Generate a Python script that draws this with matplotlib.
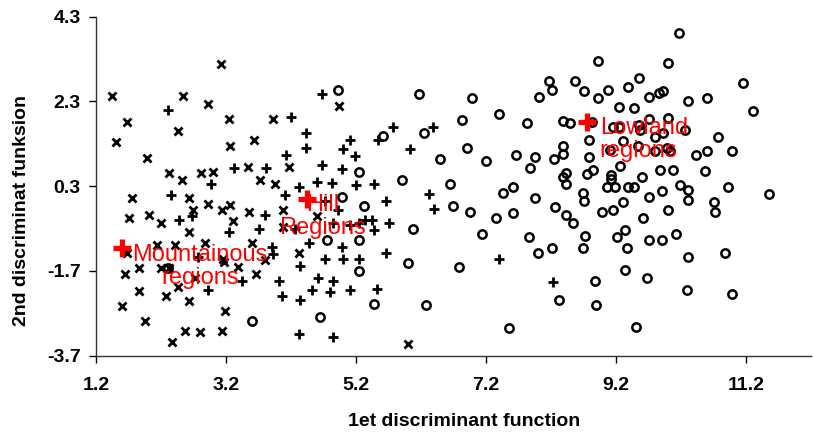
import matplotlib
matplotlib.use("Agg")
import matplotlib.pyplot as plt

# group scores (1st function, 2nd function)
mount_x = [3.13, 1.45, 2.54, 2.92, 1.68, 3.24, 3.92, 2.46, 1.50, 3.63, 3.26, 1.98, 2.33, 2.52, 2.81,
           3.00, 3.54, 3.73, 3.95, 1.75, 2.63, 2.92, 3.26, 3.14, 3.55, 2.69, 1.70, 2.02, 2.20, 3.31,
           2.63, 2.14, 2.42, 2.88, 3.60, 3.15, 3.17, 1.67, 1.86, 1.65, 2.20, 2.33, 3.38, 3.66, 3.80,
           2.73, 2.46, 1.86, 2.28, 2.63, 1.60, 3.18, 1.96, 2.57, 2.80, 3.14, 2.37, 4.94, 4.17, 4.07,
           4.60, 4.08, 4.33, 6.00]
mount_y = [3.18, 2.43, 2.43, 2.23, 1.81, 1.88, 1.88, 1.61, 1.35, 1.39, 1.25, 0.97, 0.61, 0.44, 0.61,
           0.64, 0.76, 0.44, 0.36, 0.01, 0.01, -0.13, -0.15, -0.27, -0.31, -0.27, -0.46, -0.37, -0.57, -0.52,
           -0.78, -1.09, -1.09, -1.05, -1.03, -1.41, -1.49, -1.28, -1.63, -1.78, -1.64, -1.64, -1.61, -1.78, -1.45,
           -1.87, -2.09, -2.17, -2.30, -2.41, -2.53, -2.65, -2.87, -3.12, -3.14, -3.12, -3.38, 2.19, 0.76, -0.27,
           -0.41, -0.66, -1.28, -3.42]

hill_x = [2.30, 2.97, 3.33, 3.82, 2.36, 3.80, 2.68, 2.48, 3.25, 3.71, 2.77, 3.90, 3.92, 2.92, 3.45,
          4.67, 4.20, 4.43, 4.43, 4.13, 5.11, 5.00, 5.18, 4.68, 4.98, 5.54, 5.77, 6.38, 6.03, 4.33,
          4.60, 4.83, 5.20, 5.47, 4.11, 4.72, 4.93, 5.66, 6.33, 6.40, 4.26, 4.85, 5.11, 5.24, 5.34,
          5.44, 5.47, 5.70, 4.48, 4.98, 4.34, 4.72, 5.00, 5.24, 5.66, 4.02, 4.62, 4.85, 4.06, 4.34,
          4.53, 4.80, 5.11, 5.52, 4.33, 4.85, 7.40, 8.23]
hill_y = [2.11, 0.35, 0.72, 0.72, 0.09, -0.38, -0.41, -0.49, -0.78, -0.70, -1.37, -1.13, -1.31, -2.16, -1.94,
          2.47, 1.94, 1.56, 1.21, 1.03, 1.40, 1.17, 1.01, 0.81, 0.70, 1.39, 1.70, 1.70, 1.17, 0.28,
          0.40, 0.38, 0.32, 0.36, 0.09, -0.05, -0.25, -0.05, 0.11, -0.23, -0.72, -0.58, -0.62, -0.57, -0.50,
          -0.50, -0.74, -0.57, -1.05, -1.13, -1.59, -1.41, -1.41, -1.41, -1.28, -1.94, -1.87, -1.94, -2.30, -2.38,
          -2.14, -2.20, -2.14, -2.12, -3.18, -3.27, -1.42, -1.96]

low_x = [2.31, 3.60, 4.93, 6.17, 5.24, 5.62, 6.24, 6.49, 5.90, 6.65, 4.98, 5.32, 6.07, 4.75, 5.25,
         5.24, 6.00, 5.47, 6.28, 4.65, 8.93, 8.17, 8.21, 8.57, 8.70, 8.02, 8.93, 9.08, 9.39, 9.25,
         6.99, 7.40, 6.83, 7.83, 8.38, 8.49, 8.83, 9.16, 9.24, 8.79, 9.30, 6.90, 7.20, 7.66, 7.95,
         8.24, 8.38, 8.38, 8.79, 9.10, 9.26, 7.87, 8.43, 8.38, 8.43, 8.75, 8.85, 9.13, 9.13, 7.62,
         9.06, 9.18, 7.46, 7.95, 8.69, 8.70, 9.39, 6.69, 6.95, 7.35, 7.61, 8.26, 8.43, 8.54, 8.99,
         9.15, 9.31, 7.14, 7.86, 8.73, 8.69, 9.21, 9.34, 9.37, 8.00, 8.21, 6.79, 9.34, 8.88, 8.32,
         8.89, 7.56, 10.17, 10.00, 9.56, 9.71, 9.86, 9.93, 10.31, 10.60, 11.15, 11.30, 9.47, 10.00, 9.71,
         9.56, 9.57, 9.80, 9.93, 10.26, 10.77, 9.54, 9.80, 9.98, 10.03, 10.43, 10.60, 10.98, 9.87, 10.08,
         10.57, 9.60, 9.47, 10.18, 10.31, 9.90, 10.93, 11.56, 10.31, 9.71, 10.00, 10.71, 10.72, 9.61, 9.70,
         9.91, 10.12, 10.31, 10.88, 9.67, 10.29, 10.98, 9.51]
low_y = [-1.62, -2.88, 2.58, 2.47, 0.64, 1.48, 1.55, 0.95, 0.44, 0.36, 0.05, -0.17, -0.70, -0.98, -0.98,
         -1.70, -1.51, -2.49, -2.51, -2.79, 3.26, 2.78, 2.57, 2.78, 2.55, 2.40, 2.37, 2.57, 2.63, 2.17,
         2.37, 2.00, 1.86, 1.78, 1.84, 1.78, 1.82, 1.70, 1.70, 1.39, 1.37, 1.21, 0.90, 1.03, 0.99,
         0.95, 1.25, 1.06, 0.99, 1.15, 0.77, 0.74, 0.60, 0.51, 0.36, 0.58, 0.68, 0.56, 0.48, 0.28,
         0.28, 0.28, 0.13, 0.01, 0.14, -0.05, 0.28, -0.17, -0.31, -0.44, -0.34, -0.19, -0.37, -0.58, -0.31,
         -0.27, -0.07, -0.83, -0.90, -0.88, -1.15, -0.91, -0.74, -1.17, -1.28, -1.17, -1.61, -1.68, -1.94, -2.39,
         -2.51, -3.04, 3.91, 3.20, 2.86, 2.40, 2.50, 2.55, 2.32, 2.37, 2.73, 2.07, 2.15, 1.92, 1.88,
         1.74, 1.62, 1.47, 1.55, 1.62, 1.47, 1.25, 1.13, 1.19, 1.13, 1.03, 1.13, 1.13, 0.68, 0.68,
         0.66, 0.51, 0.28, 0.32, 0.21, 0.19, 0.28, 0.11, -0.03, 0.05, -0.27, -0.07, -0.31, -0.44, -0.96,
         -0.98, -0.82, -1.37, -1.28, -1.86, -2.16, -2.25, -3.02]

# group centroids and their labels
centroid_x = [1.60, 4.45, 8.76]
centroid_y = [-1.17, -0.01, 1.82]
centroid_names = ["Mountainous\nregions", "Hill\nRegions", "Lowland\nregions"]
name_x = [2.80, 4.68, 8.95]
name_y = [-1.60, -0.41, 1.40]
name_ha = ["center", "center", "left"]

xticks = [1.2, 3.2, 5.2, 7.2, 9.2, 11.2]
yticks = [-3.7, -1.7, 0.3, 2.3, 4.3]

plt.rcParams["font.family"] = ["Liberation Sans", "DejaVu Sans"]

fig = plt.figure(figsize=(8.13, 4.32), dpi=100)
ax = fig.add_axes([96 / 813, 76.3 / 432, 715 / 813, 339 / 432])

ax.plot(mount_x, mount_y, "x", color="black", ms=6, mew=2.0, ls="none")
ax.plot(hill_x, hill_y, "+", color="black", ms=7.5, mew=2.0, ls="none")
ax.plot(low_x, low_y, "o", mfc="none", mec="black", ms=6, mew=1.8, ls="none")

ax.plot(centroid_x, centroid_y, "+", color="red", ms=12.5, mew=3.8, ls="none")
for nx, ny, nm, ha in zip(name_x, name_y, centroid_names, name_ha):
    ax.text(nx, ny, nm, color="red", fontsize=17, ha=ha, va="center",
            multialignment=ha, linespacing=1.05)

ax.set_xlim(1.2, 12.2)
ax.set_ylim(-3.7, 4.3)
ax.set_xticks(xticks)
ax.set_yticks(yticks)
ax.set_xticklabels(["%.1f" % v for v in xticks], fontweight="bold")
ax.set_yticklabels(["%.1f" % v for v in yticks], fontweight="bold")
ax.tick_params(direction="out", length=5, width=1, labelsize=14, colors="black")
ax.tick_params(axis="x", pad=10)
ax.tick_params(axis="y", pad=6)

for s in ["top", "right"]:
    ax.spines[s].set_visible(False)
for s in ["left", "bottom"]:
    ax.spines[s].set_linewidth(1)
    ax.spines[s].set_color("#333333")

fig.text(464 / 813, 1 - 421 / 432, "1et discriminant function", fontsize=14,
         fontweight="bold", ha="center", va="center")
fig.text(22 / 813, 1 - 210 / 432, "2nd discriminat funksion", fontsize=14,
         fontweight="bold", ha="center", va="center", rotation=90)

fig.savefig("out.png", dpi=100)
